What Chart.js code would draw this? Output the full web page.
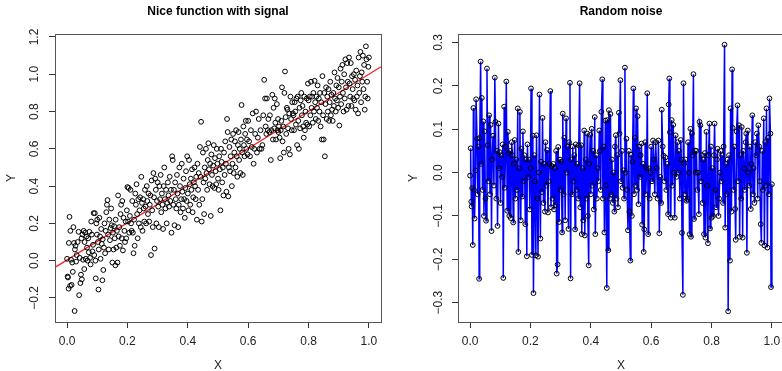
<!DOCTYPE html>
<html>
<head>
<meta charset="utf-8">
<script src="https://cdn.jsdelivr.net/npm/chart.js@4.4.1/dist/chart.umd.min.js"></script>
<style>
html,body{margin:0;padding:0;background:#fff;overflow:hidden;width:782px;height:371px;}
#left{position:absolute;left:0;top:0;}
#right{position:absolute;left:391px;top:0;}
</style>
</head>
<body>
<canvas id="left" width="391" height="380"></canvas>
<canvas id="right" width="420" height="380"></canvas>
<script>
// ---- data ----
// left panel: scatter "Nice function with signal"
const sigX = [
  0.000,0.002,0.003,0.005,0.006,0.008,0.010,0.011,0.013,0.015,0.017,0.019,0.021,0.023,0.025,0.026,0.028,0.030,0.032,0.035,0.038,0.040,0.042,0.044,0.046,0.048,0.049,
  0.051,0.053,0.055,0.057,0.058,0.060,0.062,0.064,0.066,0.068,0.070,0.072,0.074,0.076,0.078,0.080,0.082,0.084,0.086,0.088,0.090,0.092,0.094,0.095,0.097,0.099,
  0.100,0.102,0.104,0.105,0.107,0.109,0.111,0.113,0.115,0.117,0.118,0.120,0.122,0.124,0.126,0.128,0.130,0.132,0.134,0.136,0.138,0.140,0.142,0.144,0.146,0.148,
  0.150,0.152,0.154,0.156,0.158,0.160,0.161,0.163,0.165,0.167,0.169,0.171,0.173,0.175,0.177,0.179,0.181,0.183,0.185,0.187,0.190,0.192,0.194,0.196,0.198,
  0.200,0.202,0.204,0.206,0.208,0.210,0.212,0.214,0.216,0.218,0.220,0.222,0.224,0.226,0.228,0.230,0.232,0.234,0.236,0.238,0.240,0.242,0.244,0.246,0.248,
  0.250,0.252,0.254,0.256,0.258,0.260,0.262,0.264,0.266,0.268,0.270,0.272,0.274,0.276,0.278,0.280,0.282,0.284,0.286,0.288,0.290,0.292,0.294,0.296,0.298,
  0.300,0.302,0.304,0.306,0.308,0.310,0.312,0.314,0.316,0.318,0.320,0.322,0.324,0.326,0.328,0.330,0.332,0.334,0.336,0.338,0.340,0.342,0.344,0.346,0.348,
  0.350,0.352,0.354,0.356,0.358,0.360,0.362,0.364,0.366,0.368,0.370,0.372,0.374,0.376,0.378,0.380,0.382,0.384,0.386,0.388,0.390,0.392,0.394,0.396,0.398,
  0.400,0.402,0.404,0.406,0.408,0.410,0.412,0.414,0.416,0.418,0.420,0.422,0.424,0.426,0.428,0.430,0.432,0.434,0.436,0.438,0.440,0.442,0.444,0.446,0.448,
  0.450,0.452,0.454,0.456,0.458,0.460,0.462,0.464,0.466,0.468,0.470,0.472,0.474,0.476,0.478,0.480,0.482,0.484,0.486,0.488,0.490,0.492,0.494,0.496,0.498,
  0.500,0.502,0.504,0.506,0.508,0.510,0.512,0.514,0.516,0.518,0.520,0.522,0.524,0.526,0.528,0.530,0.532,0.534,0.536,0.538,0.540,0.542,0.544,0.546,0.548,
  0.550,0.552,0.554,0.556,0.558,0.560,0.562,0.564,0.566,0.568,0.570,0.572,0.574,0.576,0.578,0.580,0.582,0.584,0.586,0.588,0.590,0.592,0.594,0.596,0.598,
  0.600,0.603,0.606,0.609,0.612,0.615,0.618,0.620,0.623,0.626,0.629,0.632,0.635,0.638,0.641,0.644,0.647,
  0.650,0.653,0.656,0.658,0.660,0.662,0.665,0.667,0.670,0.672,0.675,0.677,0.680,0.682,0.684,0.686,0.688,0.690,0.692,0.695,0.697,0.699,
  0.700,0.702,0.704,0.706,0.708,0.710,0.712,0.714,0.716,0.718,0.720,0.722,0.724,0.726,0.728,0.730,0.732,0.734,0.736,0.738,0.740,0.742,0.744,0.746,0.748,
  0.750,0.752,0.754,0.756,0.758,0.760,0.762,0.764,0.766,0.768,0.770,0.772,0.774,0.776,0.778,0.780,0.782,0.784,0.786,0.788,0.790,0.792,0.794,0.796,0.798,
  0.800,0.802,0.804,0.806,0.808,0.810,0.812,0.814,0.816,0.818,0.820,0.822,0.824,0.826,0.828,0.830,0.832,0.834,0.836,0.838,0.840,0.842,0.844,0.846,0.848,
  0.850,0.852,0.854,0.856,0.858,0.860,0.862,0.864,0.866,0.868,0.870,0.872,0.874,0.876,0.878,0.880,0.882,0.884,0.886,0.888,0.890,0.892,0.894,0.896,0.898,
  0.900,0.902,0.904,0.906,0.908,0.910,0.912,0.914,0.916,0.918,0.920,0.922,0.924,0.926,0.928,0.930,0.932,0.934,0.936,0.938,0.940,0.942,0.944,0.946,0.948,
  0.950,0.952,0.954,0.956,0.958,0.960,0.962,0.964,0.966,0.968,0.970,0.972,0.974,0.976,0.978,0.980,0.982,0.984,0.986,0.988,0.990,0.992,0.994,0.996,0.998,1.000
];
const sigY = [
  0.010,-0.085,-0.090,-0.150,0.095,0.235,-0.135,0.160,0.005,-0.130,-0.010,-0.060,0.180,0.095,-0.270,0.060,0.080,-0.005,0.030,0.100,0.155,-0.185,0.015,-0.120,-0.075,0.120,-0.100,
  0.140,0.005,0.160,-0.045,0.100,0.150,0.010,0.130,0.070,0.000,0.120,0.045,0.155,0.015,-0.020,0.210,0.140,0.050,0.085,0.255,0.030,0.255,0.000,-0.095,0.200,0.140,
  0.220,0.100,-0.155,0.060,0.230,0.130,0.010,0.170,0.090,-0.105,0.115,-0.050,0.070,0.200,0.040,0.160,0.260,0.300,0.325,0.140,0.060,0.220,0.110,0.175,0.280,0.190,
  -0.010,0.150,0.060,0.185,0.120,-0.025,0.220,0.070,0.160,-0.010,0.350,0.130,0.180,0.080,0.250,0.300,0.120,0.320,0.055,0.230,0.160,0.100,0.210,0.120,0.270,
  0.395,0.210,0.390,0.150,0.240,0.380,0.200,0.160,0.320,0.150,0.040,0.220,0.080,0.360,0.300,0.410,0.250,0.120,0.330,0.200,0.270,0.340,0.180,0.450,0.310,
  0.160,0.330,0.280,0.210,0.380,0.290,0.200,0.400,0.320,0.250,0.360,0.210,0.300,0.350,0.030,0.430,0.270,0.180,0.470,0.340,0.065,0.440,0.380,0.200,0.320,
  0.420,0.290,0.180,0.400,0.330,0.460,0.260,0.360,0.300,0.170,0.400,0.500,0.330,0.280,0.380,0.200,0.310,0.420,0.350,0.290,0.450,0.320,0.380,0.150,0.560,
  0.540,0.300,0.380,0.190,0.420,0.330,0.280,0.460,0.360,0.180,0.300,0.500,0.400,0.260,0.330,0.520,0.370,0.280,0.440,0.330,0.230,0.390,0.480,0.320,0.560,
  0.360,0.270,0.540,0.410,0.300,0.440,0.380,0.490,0.260,0.340,0.420,0.500,0.400,0.330,0.450,0.220,0.520,0.380,0.470,0.300,0.610,0.450,0.745,0.210,0.330,
  0.580,0.420,0.250,0.500,0.440,0.600,0.470,0.380,0.540,0.630,0.490,0.410,0.520,0.240,0.570,0.460,0.400,0.510,0.620,0.390,0.550,0.480,0.410,0.600,0.520,
  0.440,0.380,0.560,0.490,0.270,0.600,0.530,0.420,0.500,0.350,0.580,0.460,0.640,0.520,0.370,0.760,0.690,0.345,0.500,0.610,0.480,0.560,0.650,0.400,0.520,
  0.680,0.470,0.580,0.640,0.500,0.700,0.560,0.450,0.620,0.690,0.540,0.600,0.470,0.650,0.835,0.580,0.460,0.720,0.620,0.560,0.680,0.750,0.600,0.650,0.570,
  0.750,0.640,0.560,0.700,0.610,0.790,0.520,0.600,0.680,0.800,0.580,0.660,0.760,0.600,0.700,0.600,0.620,
  0.780,0.970,0.870,0.720,0.680,0.870,0.700,0.760,0.690,0.780,0.540,0.700,0.890,0.650,0.820,0.710,0.870,0.740,0.650,0.840,0.700,0.760,
  0.690,0.720,0.660,0.550,0.700,0.750,0.930,0.640,0.720,0.580,0.900,1.015,0.770,0.680,0.820,0.810,0.710,0.600,0.790,0.570,0.880,0.760,0.700,0.850,0.790,
  0.780,0.700,0.850,0.800,0.730,0.870,0.620,0.880,0.750,0.600,0.820,0.710,0.860,0.900,0.780,0.830,0.720,0.660,0.880,0.700,0.800,0.740,0.870,0.730,0.950,
  0.860,0.720,0.880,0.780,0.960,0.820,0.880,0.740,0.900,0.800,0.965,0.850,0.760,0.880,0.820,0.940,0.750,0.870,0.800,0.900,0.720,0.850,0.650,0.990,0.780,
  0.650,0.900,0.560,0.840,0.930,0.760,0.880,0.800,0.920,0.750,0.850,0.960,0.780,0.890,0.810,0.750,0.900,0.830,1.010,0.870,0.800,0.940,0.860,0.980,0.820,
  0.930,0.725,0.880,1.030,0.840,0.960,1.050,0.900,0.800,1.000,0.870,1.080,0.930,0.810,1.060,0.960,0.830,1.090,0.950,0.880,1.060,0.830,0.990,0.920,0.870,
  1.000,0.860,0.970,0.810,1.020,0.880,0.940,0.790,1.090,0.900,0.990,1.120,0.850,1.010,0.960,1.100,0.920,1.050,0.810,0.880,1.150,1.080,0.960,0.870,1.040,1.090
];
// fitted red line, drawn edge to edge of the plot box
const fitX = [-0.04, 1.04];
const fitY = [-0.036, 1.040];

// right panel: "Random noise"
const noiseX = [
  0.000,0.002,0.004,0.005,0.007,0.009,0.011,0.013,0.015,0.018,0.020,0.023,0.025,0.028,0.030,0.032,0.035,0.037,0.039,0.041,0.044,0.046,0.048,
  0.051,0.053,0.056,0.058,0.061,0.063,0.066,0.068,0.071,0.073,0.076,0.079,0.082,0.084,0.087,0.089,0.091,0.094,0.096,0.098,
  0.101,0.103,0.106,0.108,0.110,0.113,0.115,0.118,0.120,0.123,0.125,0.128,0.130,0.133,0.135,0.138,0.140,0.143,0.145,0.148,
  0.150,0.153,0.155,0.158,0.160,0.163,0.165,0.168,0.170,0.173,0.175,0.178,0.180,0.183,0.185,0.188,0.190,0.193,0.195,0.198,
  0.200,0.202,0.205,0.208,0.210,0.213,0.215,0.218,0.220,0.223,0.225,0.228,0.230,0.233,0.235,0.238,0.240,0.243,0.245,0.248,
  0.250,0.253,0.255,0.258,0.260,0.263,0.266,0.268,0.271,0.273,0.276,0.278,0.281,0.283,0.285,0.287,0.290,0.292,0.295,0.298,
  0.300,0.302,0.305,0.307,0.310,0.312,0.315,0.318,0.320,0.323,0.326,0.328,0.331,0.333,0.335,0.338,0.340,0.343,0.345,0.348,
  0.350,0.353,0.355,0.358,0.360,0.363,0.365,0.368,0.370,0.373,0.375,0.378,0.380,0.383,0.385,0.388,0.390,0.393,0.395,0.398,
  0.400,0.403,0.405,0.408,0.410,0.413,0.415,0.418,0.420,0.423,0.425,0.428,0.430,0.433,0.435,0.438,0.440,0.443,0.445,0.448,
  0.450,0.453,0.455,0.458,0.460,0.463,0.465,0.468,0.470,0.473,0.475,0.478,0.480,0.483,0.485,0.488,0.490,0.493,0.495,0.498,
  0.500,0.503,0.505,0.508,0.510,0.513,0.515,0.518,0.520,0.523,0.526,0.528,0.531,0.533,0.536,0.538,0.541,0.543,0.546,0.548,
  0.550,0.553,0.555,0.558,0.560,0.563,0.565,0.568,0.570,0.573,0.575,0.577,0.580,0.582,0.585,0.587,0.590,0.592,0.595,0.598,
  0.600,0.603,0.606,0.609,0.612,0.615,0.618,0.621,0.624,0.627,0.630,0.633,0.635,0.638,0.641,0.644,0.647,
  0.650,0.653,0.656,0.658,0.660,0.662,0.665,0.668,0.670,0.673,0.676,0.678,0.681,0.684,0.687,0.690,0.692,0.695,0.698,
  0.700,0.702,0.705,0.707,0.709,0.712,0.714,0.717,0.720,0.722,0.725,0.727,0.730,0.732,0.735,0.737,0.740,0.742,0.745,0.748,
  0.750,0.753,0.755,0.758,0.760,0.763,0.765,0.768,0.770,0.773,0.775,0.778,0.780,0.783,0.785,0.788,0.790,0.793,0.795,0.798,
  0.800,0.803,0.805,0.808,0.810,0.813,0.815,0.818,0.820,0.823,0.825,0.828,0.830,0.833,0.835,0.838,0.840,0.843,0.845,0.848,
  0.850,0.853,0.855,0.858,0.861,0.863,0.866,0.868,0.870,0.873,0.875,0.878,0.880,0.883,0.886,0.888,0.891,0.893,0.896,0.898,
  0.900,0.903,0.905,0.908,0.910,0.913,0.915,0.917,0.920,0.922,0.925,0.927,0.930,0.932,0.935,0.937,0.939,0.942,0.945,0.948,
  0.950,0.953,0.955,0.958,0.960,0.963,0.965,0.968,0.970,0.973,0.975,0.978,0.980,0.982,0.985,0.987,0.990,0.992,0.995,0.997,1.000
];
const noiseY = [
  -0.007,0.056,-0.067,-0.078,-0.036,-0.167,0.149,-0.040,-0.106,0.005,0.169,0.078,-0.050,0.060,-0.245,0.080,0.256,0.020,0.172,-0.040,0.118,-0.100,0.095,
  -0.060,-0.111,0.240,0.063,-0.020,0.132,-0.050,0.110,-0.135,0.030,0.085,-0.030,0.219,0.117,-0.060,0.050,-0.123,0.113,0.010,0.047,
  -0.070,0.040,-0.010,0.065,-0.243,0.152,-0.035,0.060,0.210,-0.088,0.094,0.045,-0.100,0.050,-0.105,0.070,0.040,-0.115,0.020,0.075,
  -0.060,0.030,-0.040,0.148,-0.183,0.010,0.140,-0.110,0.055,-0.055,0.095,-0.020,0.040,-0.119,0.030,-0.193,0.065,-0.010,0.030,-0.085,
  0.010,0.194,-0.190,0.085,-0.278,0.040,-0.020,-0.191,0.086,-0.060,-0.194,0.000,0.180,-0.152,0.025,-0.045,0.126,-0.070,0.020,-0.090,
  0.070,-0.030,0.052,-0.092,-0.020,0.020,0.188,-0.080,0.015,-0.060,0.020,-0.085,0.010,-0.075,0.050,-0.233,-0.212,0.059,-0.114,0.030,
  -0.040,0.025,-0.138,0.136,-0.050,0.080,-0.110,0.125,0.000,0.060,-0.130,0.070,0.207,-0.244,0.030,-0.050,0.060,-0.020,0.040,-0.131,
  0.065,-0.040,0.020,-0.060,0.063,0.206,-0.080,0.063,-0.142,0.010,-0.110,0.097,-0.145,0.030,-0.060,0.090,-0.100,-0.214,0.020,0.087,
  -0.050,0.101,-0.030,0.050,-0.085,0.128,-0.142,0.040,-0.060,0.010,-0.020,0.097,0.050,-0.040,0.140,0.215,-0.060,0.060,-0.138,0.120,
  -0.030,-0.266,0.121,-0.179,0.144,-0.060,0.135,-0.050,0.030,-0.070,0.000,-0.090,0.060,0.086,-0.060,0.040,-0.080,0.138,0.090,0.213,
  -0.020,0.050,-0.035,0.005,-0.060,0.242,0.000,0.078,-0.040,-0.133,0.050,-0.090,-0.203,0.041,-0.100,0.025,0.194,-0.050,0.080,-0.030,
  0.148,-0.040,0.130,-0.073,0.060,-0.010,0.040,0.067,-0.120,0.020,-0.183,-0.131,0.070,-0.050,0.010,0.183,-0.142,0.010,-0.060,0.000,
  0.060,-0.020,0.074,0.030,-0.050,0.070,0.010,-0.060,0.074,-0.140,-0.010,-0.070,0.145,0.060,0.039,-0.020,0.035,
  -0.040,0.020,-0.096,0.157,0.217,0.093,-0.104,0.121,-0.030,0.110,0.000,-0.104,0.086,-0.010,0.070,0.000,0.050,-0.060,0.075,
  0.030,-0.139,-0.282,0.206,0.020,-0.050,0.030,-0.065,-0.061,0.070,0.000,-0.142,0.101,-0.148,0.090,0.040,0.227,-0.107,0.051,0.000,
  0.050,-0.040,0.000,-0.096,0.117,0.109,-0.020,0.040,-0.070,0.030,-0.142,0.045,-0.150,0.094,-0.030,-0.163,0.040,0.113,-0.129,0.060,
  -0.104,0.010,-0.100,0.040,0.113,-0.040,-0.080,0.030,0.055,-0.100,-0.060,0.000,0.050,-0.020,0.040,-0.070,0.060,0.295,-0.127,0.020,
  -0.050,0.030,-0.320,0.040,-0.203,0.148,-0.090,0.238,0.103,-0.040,0.060,-0.084,-0.155,0.095,0.155,-0.020,0.109,-0.148,0.040,-0.060,
  0.105,-0.150,0.050,0.010,-0.040,0.070,0.090,-0.185,0.097,0.000,-0.030,0.060,-0.084,0.020,0.132,-0.050,0.010,-0.070,0.070,0.040,
  0.090,-0.060,0.109,0.060,-0.020,-0.119,-0.162,0.050,-0.040,0.125,-0.168,0.070,-0.030,0.148,-0.173,0.080,-0.050,0.171,0.090,-0.264,-0.027
];

// tick labels
const xTicks = [0, 0.2, 0.4, 0.6, 0.8, 1.0];
const sigYTicks = [-0.2, 0, 0.2, 0.4, 0.6, 0.8, 1.0, 1.2];
const noiseYTicks = [-0.3, -0.2, -0.1, 0, 0.1, 0.2, 0.3];

const FONT = "'Liberation Sans', Arial, Helvetica, sans-serif";

function fmt(v){ return (v < 0 ? "\u2212" : "") + Math.abs(v).toFixed(1); }
function pts(xs, ys){ return xs.map((x,i)=>({x:x, y:ys[i]})); }

// R-like axis: ticks outside, only at given values
function rAxis(ticks, min, max, isY, size, pad, title, titlePad){
  return {
    type: 'linear', min: min, max: max,
    position: isY ? 'left' : 'bottom',
    afterBuildTicks: s => { s.ticks = ticks.map(v => ({ value: v })); },
    afterFit: s => { if (isY) s.width = size; else s.height = size; },
    grid: { drawOnChartArea: false, drawTicks: true, tickLength: 6, color: '#333', lineWidth: 1 },
    border: { display: true, color: '#333', width: 1 },
    ticks: {
      padding: pad, color: '#222', autoSkip: false,
      font: { family: FONT, size: 12 },
      minRotation: isY ? 90 : 0, maxRotation: isY ? 90 : 0,
      crossAlign: isY ? 'center' : 'near',
      callback: v => fmt(v)
    },
    title: { display: true, text: title, color: '#222', font: { family: FONT, size: 12 }, padding: titlePad }
  };
}

// plot box around the chart area
const boxPlugin = {
  id: 'rbox',
  afterDraw(chart){
    const a = chart.chartArea, c = chart.ctx;
    const al = p => Math.round(p - 0.5) + 0.5;
    c.save();
    c.strokeStyle = '#555';
    c.lineWidth = 1;
    c.strokeRect(al(a.left), al(a.top), al(a.right) - al(a.left), al(a.bottom) - al(a.top));
    c.restore();
  }
};

function titleOpts(text){
  return {
    display: true, text: text, fullSize: false, color: '#000',
    font: { family: FONT, size: 12, weight: 'bold' },
    padding: { top: 4.5, bottom: 15.1 }
  };
}

Chart.defaults.animation = false;

new Chart(document.getElementById('left'), {
  type: 'scatter',
  data: {
    datasets: [
      { data: pts(sigX, sigY), pointRadius: 2.4, pointBorderWidth: 1, pointBorderColor: '#000',
        pointBackgroundColor: 'rgba(0,0,0,0)', showLine: false },
      { data: pts(fitX, fitY), showLine: true, pointRadius: 0, borderColor: 'rgba(255,0,0,0.85)', borderWidth: 1.3 }
    ]
  },
  options: {
    responsive: false, devicePixelRatio: 1,
    layout: { padding: { left: 0, right: 10, top: 0, bottom: 0 } },
    plugins: { legend: { display: false }, tooltip: { enabled: false }, title: titleOpts('Nice function with signal') },
    scales: {
      x: rAxis(xTicks, -0.04, 1.04, false, 58, 6.5, 'X', { bottom: 7.1 }),
      y: rAxis(sigYTicks, -0.329, 1.216, true, 55, 2, 'Y', { top: 4.5 })
    }
  },
  plugins: [boxPlugin]
});

new Chart(document.getElementById('right'), {
  type: 'scatter',
  data: {
    datasets: [
      { data: pts(noiseX, noiseY), showLine: true, borderColor: '#0000ff', borderWidth: 1.5,
        pointRadius: 2.4, pointBorderWidth: 1, pointBorderColor: '#000', pointBackgroundColor: 'rgba(0,0,0,0)' }
    ]
  },
  options: {
    responsive: false, devicePixelRatio: 1,
    layout: { padding: { left: 0, right: 27, top: 0, bottom: 0 } },
    plugins: { legend: { display: false }, tooltip: { enabled: false }, title: titleOpts('Random noise') },
    scales: {
      x: rAxis(xTicks, -0.04, 1.04, false, 58, 6.5, 'X', { bottom: 7.1 }),
      y: rAxis(noiseYTicks, -0.3446, 0.3196, true, 67, 1, 'Y', { top: 15.5 })
    }
  },
  plugins: [boxPlugin]
});
</script>
</body>
</html>
